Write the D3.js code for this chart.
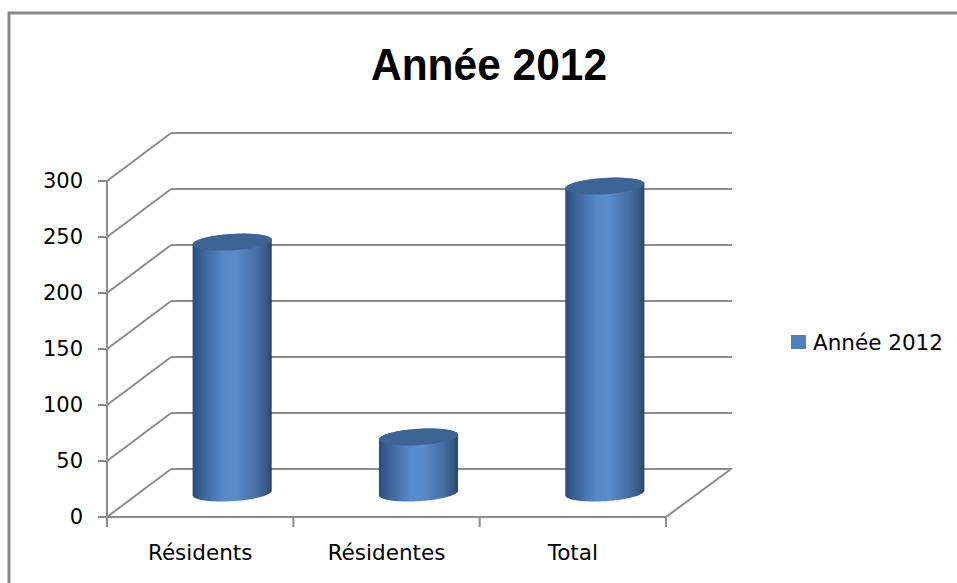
<!DOCTYPE html>
<html lang="fr">
<head>
	<meta charset="UTF-8">
	<title>Année 2012</title>
	<script src="https://d3js.org/d3.v7.min.js"></script>
	<style>
		body {
			margin: 0;
			background: #fff;
		}
		svg {
			display: block;
			background: #fff;
		}
		.tick-label, .cat-label, .legend-label {
			font-family: "DejaVu Sans", sans-serif;
			fill: #000;
		}
		.title {
			font-family: "Liberation Sans", Arial, sans-serif;
			font-weight: bold;
		}
		.grid {
			stroke: #8c8c8c;
			stroke-width: 2;
			fill: none;
		}
	</style>
</head>
<body>
<script>
	var categories = ["Résidents", "Résidentes", "Total"];
	var values = [224, 50, 274];
	var seriesName = "Année 2012";
	var yTicks = [0, 50, 100, 150, 200, 250, 300];

	var width = 957,
		height = 583;

	// depth of the 3d box (oblique projection)
	var depthX = 64,
		depthY = -48;

	var svg = d3.select("body").append("svg")
		.attr("width", width)
		.attr("height", height);

	var defs = svg.append("defs");
	var grad = defs.append("linearGradient")
		.attr("id", "cyl")
		.attr("x1", "0%").attr("x2", "100%")
		.attr("y1", "0%").attr("y2", "0%");
	[["0%", "#2b4d7a"], ["12%", "#3a6298"], ["40%", "#5889c9"], ["55%", "#5a8bcc"],
	 ["80%", "#4670a6"], ["93%", "#375a88"], ["100%", "#2a4669"]].forEach(function (s) {
		grad.append("stop").attr("offset", s[0]).attr("stop-color", s[1]);
	});

	// outer frame
	svg.append("path")
		.attr("d", "M9,600 L9,13 L960,13")
		.attr("fill", "none")
		.attr("stroke", "#8a8a8a")
		.attr("stroke-width", 3);

	svg.append("text")
		.attr("class", "title")
		.attr("x", 489)
		.attr("y", 80)
		.attr("text-anchor", "middle")
		.attr("font-size", 45)
		.attr("textLength", 236)
		.attr("lengthAdjust", "spacingAndGlyphs")
		.text(seriesName);

	var x = d3.scaleBand()
		.domain(categories)
		.range([107, 666]);

	var y = d3.scaleLinear()
		.domain([0, 300])
		.range([517, 181]);

	var g = svg.append("g");

	// back wall gridlines
	g.selectAll(".backgrid")
		.data(yTicks)
		.enter().append("line")
		.attr("class", "grid")
		.attr("x1", x.range()[0] + depthX)
		.attr("x2", x.range()[1] + depthX + 2)
		.attr("y1", function (d) { return y(d) + depthY; })
		.attr("y2", function (d) { return y(d) + depthY; });

	// side wall diagonals
	g.selectAll(".sidegrid")
		.data(yTicks)
		.enter().append("line")
		.attr("class", "grid")
		.attr("stroke-width", 1.5)
		.attr("x1", x.range()[0])
		.attr("x2", x.range()[0] + depthX)
		.attr("y1", function (d) { return y(d); })
		.attr("y2", function (d) { return y(d) + depthY; });

	// floor edges
	g.append("path")
		.attr("class", "grid")
		.attr("d", "M" + x.range()[0] + "," + y(0) +
			"L" + x.range()[1] + "," + y(0) +
			"L" + (x.range()[1] + depthX + 1) + "," + (y(0) + depthY));

	// value axis
	g.append("line")
		.attr("class", "grid")
		.attr("x1", x.range()[0]).attr("x2", x.range()[0])
		.attr("y1", y(300)).attr("y2", y(0));

	g.selectAll(".ytick")
		.data(yTicks)
		.enter().append("line")
		.attr("class", "grid")
		.attr("x1", x.range()[0] - 9)
		.attr("x2", x.range()[0])
		.attr("y1", function (d) { return y(d); })
		.attr("y2", function (d) { return y(d); });

	g.selectAll(".tick-label")
		.data(yTicks)
		.enter().append("text")
		.attr("class", "tick-label")
		.attr("x", 83)
		.attr("y", function (d) { return y(d) + 7; })
		.attr("text-anchor", "end")
		.attr("font-size", 21)
		.text(function (d) { return d; });

	// category ticks and labels
	var catEdges = categories.map(function (c) { return x(c); }).concat([x.range()[1]]);
	g.selectAll(".xtick")
		.data(catEdges)
		.enter().append("line")
		.attr("class", "grid")
		.attr("x1", function (d) { return d; })
		.attr("x2", function (d) { return d; })
		.attr("y1", y(0))
		.attr("y2", y(0) + 10);

	g.selectAll(".cat-label")
		.data(categories)
		.enter().append("text")
		.attr("class", "cat-label")
		.attr("x", function (d) { return x(d) + x.bandwidth() / 2; })
		.attr("y", 560)
		.attr("text-anchor", "middle")
		.attr("font-size", 21.5)
		.text(function (d) { return d; });

	// cylinders
	var ra = 38, rb = 11, rc = 8.5;
	var t0 = Math.atan2(rb, ra);

	function ellPt(cx, cy, t) {
		return [cx + ra * Math.cos(t) + rb * Math.sin(t), cy - rc * Math.sin(t)];
	}

	function arc(cx, cy, from, to) {
		var pts = [];
		for (var i = 0; i <= 40; i++) {
			pts.push(ellPt(cx, cy, from + (to - from) * i / 40));
		}
		return pts;
	}

	var line = d3.line();

	var bars = g.selectAll(".cylinder")
		.data(categories.map(function (c, i) { return {name: c, value: values[i]}; }))
		.enter().append("g")
		.attr("class", "cylinder");

	bars.append("path")
		.attr("fill", "url(#cyl)")
		.attr("d", function (d) {
			var cx = x(d.name) + x.bandwidth() / 2 + depthX / 2;
			var yb = y(0) + depthY / 2;
			var yt = y(d.value) + depthY / 2;
			var pts = arc(cx, yb, t0 + Math.PI, t0 + 2 * Math.PI)
				.concat(arc(cx, yt, t0, t0 + Math.PI));
			return line(pts) + "Z";
		});

	bars.append("path")
		.attr("fill", "#3d6494")
		.attr("d", function (d) {
			var cx = x(d.name) + x.bandwidth() / 2 + depthX / 2;
			var yt = y(d.value) + depthY / 2;
			return line(arc(cx, yt, 0, 2 * Math.PI)) + "Z";
		});

	// legend
	var legend = svg.append("g");
	legend.append("rect")
		.attr("x", 791)
		.attr("y", 335)
		.attr("width", 15)
		.attr("height", 14)
		.attr("fill", "#4f81bd");
	legend.append("text")
		.attr("class", "legend-label")
		.attr("x", 813)
		.attr("y", 350)
		.attr("font-size", 21.5)
		.text(seriesName);
</script>
</body>
</html>
